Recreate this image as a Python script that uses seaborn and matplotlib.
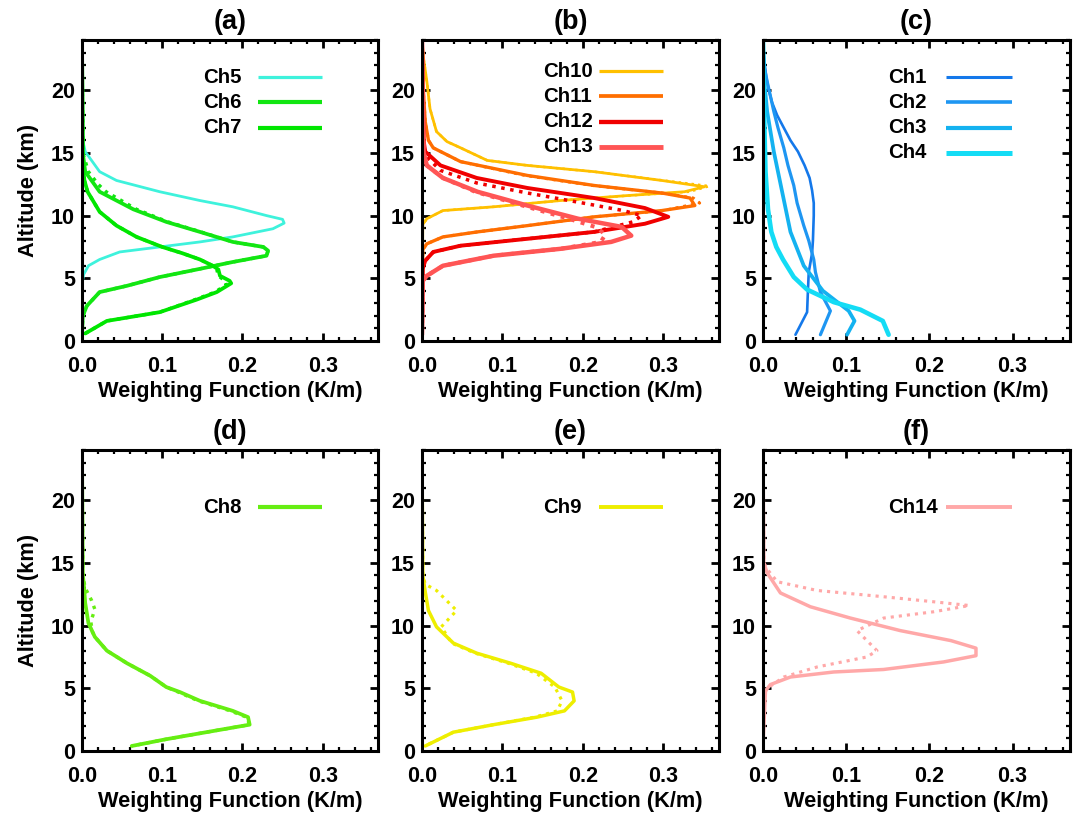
import numpy as np
import pandas as pd
import matplotlib
matplotlib.use("Agg")
import matplotlib.pyplot as plt
from matplotlib.ticker import MultipleLocator, FormatStrFormatter
import seaborn as sns

# ---------------- weighting-function profiles (altitude km, K/m) ----------------
# Panel (a)
ch5_alt = [24, 16, 15.1, 13.5, 12.8, 11.9, 11.2, 10.7, 10.0, 9.7, 9.4, 8.95, 8.3, 7.9, 7.5, 7.1, 6.5, 6.0, 5.3, 4.5, 0.5]
ch5_wf = [0, 0.001, 0.004, 0.022, 0.043, 0.097, 0.147, 0.188, 0.230, 0.250, 0.252, 0.238, 0.188, 0.147, 0.097, 0.047, 0.022, 0.008, 0.002, 0, 0]

ch6_alt = [24, 15, 13.5, 11.9, 10.5, 9.5, 8.7, 7.9, 7.5, 7.2, 6.8, 6.3, 5.7, 5.1, 4.4, 3.9, 2.8, 2.0, 0.5]
ch6_wf = [0, 0.001, 0.004, 0.022, 0.064, 0.105, 0.147, 0.188, 0.226, 0.232, 0.230, 0.188, 0.143, 0.097, 0.056, 0.022, 0.006, 0.001, 0]
ch6_dot_alt = [24, 15, 13.5, 12.5, 11.9, 10.5, 9.5, 8.7, 7.9, 7.5, 7.2, 6.8, 6.3, 5.7, 5.1, 4.4, 3.9, 2.8, 2.0, 0.5]
ch6_dot_wf = [0, 0.001, 0.008, 0.020, 0.030, 0.068, 0.107, 0.148, 0.188, 0.226, 0.232, 0.230, 0.188, 0.143, 0.097, 0.056, 0.022, 0.006, 0.001, 0]

ch7_alt = [24, 14, 12.8, 11.9, 10.3, 9.2, 8.3, 7.5, 7.0, 6.5, 6.0, 5.7, 5.2, 4.8, 4.6, 3.9, 3.3, 2.3, 1.6, 0.6]
ch7_wf = [0, 0.001, 0.003, 0.007, 0.022, 0.043, 0.068, 0.100, 0.125, 0.147, 0.163, 0.170, 0.172, 0.184, 0.186, 0.168, 0.143, 0.097, 0.031, 0.004]
ch7_dot_alt = [24, 14, 12.8, 11.9, 10.3, 9.2, 8.3, 7.5, 7.0, 6.5, 6.0, 5.7, 5.2, 4.8, 4.5, 3.9, 3.3, 2.3, 1.6, 0.6]
ch7_dot_wf = [0, 0.001, 0.003, 0.007, 0.022, 0.043, 0.068, 0.100, 0.125, 0.147, 0.163, 0.168, 0.170, 0.178, 0.180, 0.166, 0.141, 0.097, 0.031, 0.004]

# Panel (b)
ch10_alt = [24, 22.5, 20.7, 18.5, 16.7, 15.9, 15.4, 14.4, 14.0, 13.5, 12.8, 12.3, 11.9, 11.6, 11.2, 10.7, 10.4, 9.75, 9.3, 0.5]
ch10_wf = [0, 0.002, 0.006, 0.010, 0.018, 0.031, 0.048, 0.081, 0.131, 0.214, 0.298, 0.351, 0.326, 0.256, 0.172, 0.089, 0.026, 0.006, 0.001, 0]
ch10_dot_alt = [24, 22.5, 20.7, 18.5, 16.7, 15.9, 15.4, 14.4, 14.0, 13.5, 12.8, 12.35, 11.9, 11.6, 11.2, 10.7, 10.4, 9.75, 9.3, 0.5]
ch10_dot_wf = [0, 0.002, 0.006, 0.010, 0.018, 0.031, 0.048, 0.081, 0.131, 0.214, 0.300, 0.357, 0.332, 0.258, 0.172, 0.089, 0.026, 0.006, 0.001, 0]

ch11_alt = [24, 19.6, 17.5, 16.0, 15.4, 14.3, 13.2, 12.4, 11.8, 11.4, 10.8, 10.4, 9.9, 9.2, 8.7, 8.3, 7.75, 7.3, 0.5]
ch11_wf = [0, 0.002, 0.004, 0.008, 0.014, 0.048, 0.131, 0.214, 0.298, 0.333, 0.339, 0.298, 0.214, 0.131, 0.069, 0.026, 0.006, 0.001, 0]
ch11_dot_alt = [24, 19.6, 17.5, 16.0, 15.4, 14.3, 13.2, 12.4, 11.8, 11.4, 11.0, 10.4, 9.9, 9.2, 8.7, 8.3, 7.75, 7.3, 0.5]
ch11_dot_wf = [0, 0.002, 0.004, 0.008, 0.014, 0.048, 0.128, 0.212, 0.298, 0.337, 0.345, 0.300, 0.214, 0.131, 0.069, 0.026, 0.006, 0.001, 0]

ch12_alt = [24, 16, 15.1, 14.0, 13.0, 12.2, 11.4, 10.6, 9.9, 9.35, 8.7, 8.15, 7.6, 7.1, 6.4, 5.8, 0.5]
ch12_wf = [0, 0.002, 0.004, 0.023, 0.068, 0.131, 0.214, 0.277, 0.306, 0.277, 0.214, 0.131, 0.048, 0.014, 0.004, 0.001, 0]
ch12_dot_alt = [24, 16, 14.8, 13.6, 12.6, 11.8, 11.0, 10.4, 10.0, 9.5, 8.7, 8.15, 7.6, 7.1, 6.4, 5.8, 0.5]
ch12_dot_wf = [0, 0.002, 0.004, 0.023, 0.068, 0.131, 0.200, 0.250, 0.273, 0.262, 0.214, 0.131, 0.048, 0.014, 0.004, 0.001, 0]

ch13_alt = [24, 15.0, 14.0, 13.0, 11.9, 10.8, 9.75, 9.1, 8.4, 7.9, 7.35, 6.8, 6.0, 5.2, 4.8, 0.5]
ch13_wf = [0, 0.002, 0.006, 0.026, 0.069, 0.131, 0.194, 0.248, 0.260, 0.235, 0.172, 0.089, 0.026, 0.006, 0.001, 0]
ch13_dot_alt = [24, 15.0, 14.0, 13.0, 11.9, 10.8, 9.75, 9.1, 8.5, 7.9, 7.35, 6.8, 6.0, 5.2, 4.8, 0.5]
ch13_dot_wf = [0, 0.002, 0.006, 0.026, 0.066, 0.125, 0.182, 0.215, 0.228, 0.222, 0.172, 0.089, 0.026, 0.006, 0.001, 0]

# Panel (c)
ch1_alt = [24, 22.7, 21.0, 20.0, 19.0, 18.0, 17.0, 16.0, 15.1, 14.0, 13.0, 12.0, 11.0, 10.0, 8.0, 7.0, 5.5, 4.0, 2.3, 0.5]
ch1_wf = [0, 0.001, 0.004, 0.007, 0.011, 0.017, 0.025, 0.033, 0.042, 0.050, 0.056, 0.059, 0.061, 0.061, 0.060, 0.059, 0.055, 0.054, 0.053, 0.039]

ch2_alt = [24, 22, 20.7, 18.3, 17.0, 15.4, 14.0, 12.4, 11.0, 9.2, 8.0, 6.5, 5.5, 3.9, 2.4, 0.5]
ch2_wf = [0, 0.001, 0.005, 0.013, 0.018, 0.025, 0.030, 0.037, 0.041, 0.049, 0.055, 0.061, 0.063, 0.069, 0.081, 0.069]

ch3_alt = [24, 21, 18.3, 15.1, 11.9, 8.7, 6.0, 4.0, 2.4, 1.6, 0.5]
ch3_wf = [0, 0.001, 0.005, 0.013, 0.023, 0.033, 0.049, 0.072, 0.103, 0.110, 0.101]

ch4_alt = [24, 18.9, 13.5, 10.5, 8.7, 7.5, 6.5, 5.1, 4.1, 3.1, 2.5, 1.6, 0.5]
ch4_wf = [0, 0.001, 0.003, 0.006, 0.010, 0.016, 0.024, 0.037, 0.053, 0.085, 0.117, 0.144, 0.151]

# Panel (d)
ch8_alt = [24, 14, 13.5, 11.8, 10.2, 9.1, 8.0, 7.0, 6.0, 5.1, 4.7, 4.0, 3.2, 2.7, 2.1, 1.6, 0.94, 0.4]
ch8_wf = [0, 0.001, 0.002, 0.004, 0.008, 0.016, 0.031, 0.056, 0.085, 0.105, 0.122, 0.147, 0.188, 0.207, 0.209, 0.164, 0.105, 0.062]
ch8_dot_alt = [24, 14, 13.0, 12.0, 11.3, 10.3, 9.5, 9.1, 8.0, 7.0, 6.0, 5.1, 4.7, 4.0, 3.2, 2.7, 2.1, 1.6, 0.94, 0.4]
ch8_dot_wf = [0, 0.001, 0.004, 0.012, 0.016, 0.011, 0.013, 0.016, 0.031, 0.056, 0.085, 0.105, 0.120, 0.145, 0.185, 0.205, 0.209, 0.164, 0.105, 0.062]

# Panel (e)
ch9_alt = [24, 14, 12.7, 11.2, 9.9, 8.6, 7.8, 7.0, 6.2, 5.1, 4.7, 4.0, 3.2, 2.7, 2.1, 1.5, 0.4]
ch9_wf = [0, 0.001, 0.004, 0.008, 0.018, 0.039, 0.068, 0.110, 0.148, 0.170, 0.187, 0.189, 0.177, 0.143, 0.089, 0.039, 0.004]
ch9_dot_alt = [24, 14, 13.3, 12.8, 11.2, 9.9, 8.6, 7.8, 7.0, 6.2, 5.1, 4.0, 3.2, 2.7, 2.1, 1.5, 0.4]
ch9_dot_wf = [0, 0.001, 0.004, 0.018, 0.043, 0.024, 0.037, 0.066, 0.107, 0.142, 0.165, 0.174, 0.168, 0.140, 0.089, 0.039, 0.004]

# Panel (f)
ch14_alt = [24, 15, 14.2, 12.6, 11.5, 10.6, 9.6, 8.8, 8.2, 7.6, 7.1, 6.5, 6.3, 5.9, 5.3, 4.8, 0.5]
ch14_wf = [0, 0.001, 0.005, 0.021, 0.057, 0.105, 0.165, 0.226, 0.256, 0.256, 0.217, 0.145, 0.085, 0.033, 0.009, 0.003, 0]
ch14_dot_alt = [24, 15, 14.5, 13.5, 12.8, 12.3, 11.9, 11.6, 11.1, 10.6, 9.6, 8.0, 7.5, 6.7, 5.9, 5.0, 4.5, 0.5]
ch14_dot_wf = [0, 0.001, 0.005, 0.017, 0.065, 0.145, 0.205, 0.248, 0.205, 0.145, 0.113, 0.137, 0.125, 0.065, 0.025, 0.005, 0.001, 0]

panel_titles = ["(a)", "(b)", "(c)", "(d)", "(e)", "(f)"]
xticks = [0.0, 0.1, 0.2, 0.3]
yticks = [0, 5, 10, 15, 20]

# channel name -> (solid profile, dotted profile or None, colour, line width pt)
channels = {
    "Ch1": ((ch1_alt, ch1_wf), None, "#1478ea", 1.9),
    "Ch2": ((ch2_alt, ch2_wf), None, "#1e96f2", 2.3),
    "Ch3": ((ch3_alt, ch3_wf), None, "#14b2f0", 2.7),
    "Ch4": ((ch4_alt, ch4_wf), None, "#14dcf5", 3.3),
    "Ch5": ((ch5_alt, ch5_wf), None, "#3ef2dc", 2.0),
    "Ch6": ((ch6_alt, ch6_wf), (ch6_dot_alt, ch6_dot_wf), "#12e612", 2.7),
    "Ch7": ((ch7_alt, ch7_wf), (ch7_dot_alt, ch7_dot_wf), "#00e600", 2.7),
    "Ch8": ((ch8_alt, ch8_wf), (ch8_dot_alt, ch8_dot_wf), "#66ee12", 2.7),
    "Ch9": ((ch9_alt, ch9_wf), (ch9_dot_alt, ch9_dot_wf), "#eeee00", 2.5),
    "Ch10": ((ch10_alt, ch10_wf), (ch10_dot_alt, ch10_dot_wf), "#ffc000", 2.0),
    "Ch11": ((ch11_alt, ch11_wf), (ch11_dot_alt, ch11_dot_wf), "#ff6e00", 2.4),
    "Ch12": ((ch12_alt, ch12_wf), (ch12_dot_alt, ch12_dot_wf), "#f00000", 2.8),
    "Ch13": ((ch13_alt, ch13_wf), (ch13_dot_alt, ch13_dot_wf), "#ff5555", 3.2),
    "Ch14": ((ch14_alt, ch14_wf), (ch14_dot_alt, ch14_dot_wf), "#ffa8a8", 2.5),
}
panel_channels = [
    ["Ch5", "Ch6", "Ch7"],
    ["Ch10", "Ch11", "Ch12", "Ch13"],
    ["Ch1", "Ch2", "Ch3", "Ch4"],
    ["Ch8"],
    ["Ch9"],
    ["Ch14"],
]
# first key row (axes fraction) for each panel
key_top = [0.877, 0.897, 0.877, 0.81, 0.81, 0.81]

# ---------------- style ----------------
sns.set_theme(style="ticks")
plt.rcParams["font.family"] = ["Liberation Sans", "DejaVu Sans"]
plt.rcParams["font.weight"] = "bold"
plt.rcParams["axes.labelweight"] = "bold"
plt.rcParams["axes.titleweight"] = "bold"
plt.rcParams["text.color"] = "black"
plt.rcParams["axes.labelcolor"] = "black"
plt.rcParams["xtick.color"] = "black"
plt.rcParams["ytick.color"] = "black"

FS = 15.5
KEY_FS = 14.7
fig = plt.figure(figsize=(10.77, 8.17), dpi=100)

W = 1077.0
H = 817.0
col_px = [(82, 296), (422, 297), (763, 307)]
row_px = [(40, 301), (450, 301)]

for i in range(6):
    r, c = divmod(i, 3)
    x0, w = col_px[c]
    y0, h = row_px[r]
    ax = fig.add_axes([x0 / W, 1 - (y0 + h) / H, w / W, h / H])

    for name in panel_channels[i]:
        solid, dotted, color, lw = channels[name]
        df = pd.DataFrame({"alt": solid[0], "wf": solid[1]})
        sns.lineplot(data=df, x="wf", y="alt", ax=ax, sort=False, estimator=None,
                     orient="y", color=color, linewidth=lw, legend=False)
        if dotted is not None:
            dd = pd.DataFrame({"alt": dotted[0], "wf": dotted[1]})
            sns.lineplot(data=dd, x="wf", y="alt", ax=ax, sort=False, estimator=None,
                         orient="y", color=color, linewidth=lw * 0.9,
                         linestyle=(0, (1, 1.6)), legend=False)

    # channel key: bold name, then a line sample
    for k, name in enumerate(panel_channels[i]):
        _, _, color, lw = channels[name]
        yk = key_top[i] - 0.084 * k
        ax.text(0.409, yk, name, transform=ax.transAxes, fontsize=KEY_FS,
                fontweight="bold", va="center", ha="left", color="black")
        ax.plot([0.595, 0.812], [yk, yk], transform=ax.transAxes,
                color=color, linewidth=lw + 0.3, solid_capstyle="butt")

    ax.set_xlim(0, 0.369)
    ax.set_ylim(0, 24)
    ax.set_xticks(xticks)
    ax.set_yticks(yticks)
    ax.xaxis.set_major_formatter(FormatStrFormatter("%.1f"))
    ax.xaxis.set_minor_locator(MultipleLocator(0.02))
    ax.yaxis.set_minor_locator(MultipleLocator(1))
    ax.tick_params(which="both", direction="in", top=True, right=True,
                   labelsize=FS, colors="black")
    ax.tick_params(which="major", length=6, width=2.0)
    ax.tick_params(which="minor", length=3, width=1.6)
    ax.tick_params(axis="x", which="major", pad=11)
    ax.tick_params(axis="y", which="major", pad=5)
    for lab in ax.get_xticklabels() + ax.get_yticklabels():
        lab.set_fontweight("bold")
    for sp in ax.spines.values():
        sp.set_linewidth(2.2)
        sp.set_color("black")

    ax.set_xlabel("Weighting Function (K/m)", fontsize=FS + 0.2, fontweight="bold", labelpad=3)
    if c == 0:
        ax.set_ylabel("Altitude (km)", fontsize=FS + 0.2, fontweight="bold", labelpad=9)
    else:
        ax.set_ylabel("")
    ax.set_title(panel_titles[i], fontsize=19.5, fontweight="bold", pad=8)

fig.savefig("out.png", dpi=100, facecolor="white")
